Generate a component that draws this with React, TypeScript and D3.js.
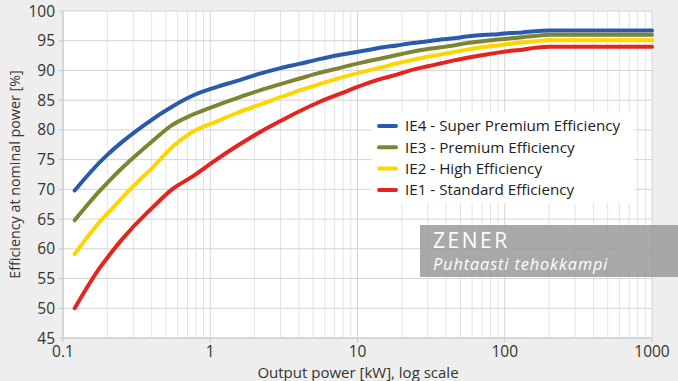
import React from "react";
import * as d3 from "d3";

const powerKW = [0.12, 0.18, 0.2, 0.25, 0.37, 0.4, 0.55, 0.75, 1.1, 1.5, 2.2, 3, 4, 5.5, 7.5, 11, 15, 18.5, 22, 30, 37, 45, 55, 75, 90, 110, 132, 160, 200, 1000];
const ie4 = [69.8, 74.7, 75.8, 77.9, 81.1, 81.7, 83.9, 85.7, 87.2, 88.2, 89.5, 90.4, 91.1, 91.9, 92.6, 93.3, 93.9, 94.2, 94.5, 94.9, 95.2, 95.4, 95.7, 96.0, 96.1, 96.3, 96.4, 96.6, 96.7, 96.7];
const ie3 = [64.8, 69.9, 71.1, 73.5, 77.3, 78.0, 80.8, 82.5, 84.1, 85.3, 86.7, 87.7, 88.6, 89.6, 90.4, 91.4, 92.1, 92.6, 93.0, 93.6, 93.9, 94.2, 94.6, 95.0, 95.2, 95.4, 95.6, 95.8, 96.0, 96.0];
const ie2 = [59.1, 64.7, 65.9, 68.5, 72.7, 73.5, 77.1, 79.6, 81.4, 82.8, 84.3, 85.5, 86.6, 87.7, 88.7, 89.8, 90.6, 91.2, 91.6, 92.3, 92.7, 93.1, 93.5, 94.0, 94.2, 94.5, 94.7, 94.9, 95.1, 95.1];
const ie1 = [50.0, 57.0, 58.5, 61.5, 66.0, 66.8, 70.0, 72.1, 75.0, 77.2, 79.7, 81.5, 83.1, 84.7, 86.0, 87.6, 88.7, 89.3, 89.9, 90.7, 91.2, 91.7, 92.1, 92.7, 93.0, 93.3, 93.5, 93.8, 94.0, 94.0];

const seriesNames = ["IE4 - Super Premium Efficiency", "IE3 - Premium Efficiency", "IE2 - High Efficiency", "IE1 - Standard Efficiency"];
const seriesValues = [ie4, ie3, ie2, ie1];
const seriesColors = ["#2a5bab", "#7b8532", "#ffd500", "#e8231f"];

const xTicks = [0.1, 1, 10, 100, 1000];
const xTickLabels = ["0.1", "1", "10", "100", "1000"];
const yTicks = [45, 50, 55, 60, 65, 70, 75, 80, 85, 90, 95, 100];

const W = 678, H = 381;
const left = 63, right = 652, top = 11, bottom = 338;
const FONT = "'Open Sans', 'Noto Sans', sans-serif";

export default function App() {
  const x = d3.scaleLog().domain([0.1, 1000]).range([left, right]);
  const y = d3.scaleLinear().domain([45, 100]).range([bottom, top]);
  const minor: number[] = [];
  for (let dec = 0.1; dec < 1000; dec *= 10) {
    for (let k = 2; k <= 9; k++) minor.push(dec * k);
  }
  const line = d3.line<[number, number]>().x((d) => x(d[0])).y((d) => y(d[1])).curve(d3.curveMonotoneX);

  return (
    <svg width={W} height={H} style={{ position: "absolute", left: 0, top: 0 }} fontFamily={FONT}>
      <rect x={0} y={0} width={W} height={H} fill="#eeeeee" />
      <rect x={left} y={top} width={right - left} height={bottom - top} fill="#ffffff" />
      {minor.map((v, i) => (
        <line key={"m" + i} x1={x(v)} x2={x(v)} y1={top} y2={bottom} stroke="#e3e3e3" strokeWidth={1} />
      ))}
      {xTicks.map((v, i) => (
        <line key={"xg" + i} x1={x(v)} x2={x(v)} y1={top} y2={bottom} stroke="#d4d4d4" strokeWidth={1} />
      ))}
      {yTicks.map((v, i) => (
        <line key={"yg" + i} x1={left} x2={right} y1={y(v)} y2={y(v)} stroke="#d4d4d4" strokeWidth={1} />
      ))}
      <line x1={left} x2={left} y1={top} y2={bottom} stroke="#c8c8c8" />
      <line x1={left} x2={right} y1={bottom} y2={bottom} stroke="#c8c8c8" />
      {yTicks.map((v, i) => (
        <g key={"yt" + i}>
          <line x1={left - 4} x2={left} y1={y(v)} y2={y(v)} stroke="#c8c8c8" />
          <text x={left - 8} y={y(v)} dy="0.36em" textAnchor="end" fontSize={15.5} fill="#333">{v}</text>
        </g>
      ))}
      {xTicks.map((v, i) => (
        <g key={"xt" + i}>
          <line x1={x(v)} x2={x(v)} y1={bottom} y2={bottom + 4} stroke="#c8c8c8" />
          <text x={x(v)} y={bottom + 19} textAnchor="middle" fontSize={15.5} fill="#333">{xTickLabels[i]}</text>
        </g>
      ))}
      <text x={358} y={378} textAnchor="middle" fontSize={15} fill="#333">Output power [kW], log scale</text>
      <text transform={`translate(20, ${(top + bottom) / 2}) rotate(-90)`} textAnchor="middle" fontSize={14.3} fill="#333">Efficiency at nominal power [%]</text>
      {seriesValues.map((vals, si) => (
        <path key={"s" + si} d={line(powerKW.map((p, i) => [p, vals[i]] as [number, number])) || ""} fill="none" stroke={seriesColors[si]} strokeWidth={4} strokeLinecap="round" strokeLinejoin="round" />
      ))}
      <rect x={371} y={112} width={263} height={91} fill="#ffffff" />
      {seriesNames.map((n, i) => (
        <g key={"l" + i}>
          <line x1={379} x2={396} y1={126 + i * 21.3} y2={126 + i * 21.3} stroke={seriesColors[i]} strokeWidth={4} strokeLinecap="round" />
          <text x={405} y={126 + i * 21.3} dy="0.36em" fontSize={15.2} fill="#222">{n}</text>
        </g>
      ))}
      <rect x={420} y={225} width={258} height={52} fill="#9a9a9a" fillOpacity={0.85} />
      <text x={433} y={248} fontSize={21} fill="#ffffff" letterSpacing={2.5}>ZENER</text>
      <text x={433} y={270} fontSize={16.3} fontStyle="italic" fill="#ffffff" letterSpacing={0.9}>Puhtaasti tehokkampi</text>
    </svg>
  );
}
